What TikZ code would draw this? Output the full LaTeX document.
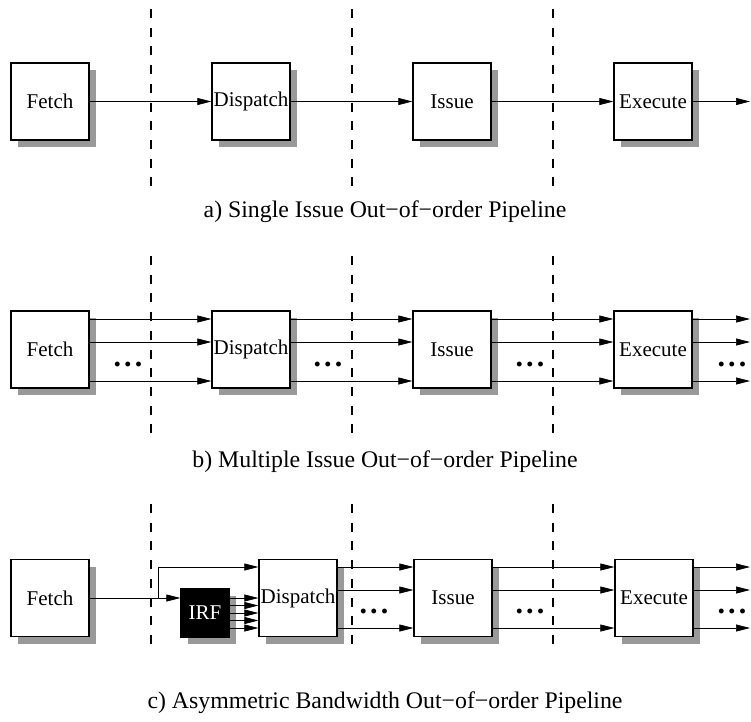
\documentclass[tikz,border=0pt]{standalone}
\usepackage{fontspec}
\setmainfont{Liberation Serif}
\usetikzlibrary{arrows.meta,shadows,calc}
\begin{document}
\begin{tikzpicture}[x=1pt,y=-1pt,
  stage/.style={draw=black, line width=1.3pt, fill=white, minimum width=78pt, minimum height=77pt, inner sep=0pt,
    font=\fontsize{21}{25}\selectfont,
    drop shadow={shadow xshift=7pt, shadow yshift=-7pt, fill=black!40, opacity=1, draw=none}},
  irfbox/.style={draw=black, line width=1.3pt, fill=black, text=white, minimum width=48pt, minimum height=48pt, inner sep=0pt,
    font=\fontsize{21}{25}\selectfont,
    drop shadow={shadow xshift=7pt, shadow yshift=-7pt, fill=black!40, opacity=1, draw=none}},
  conn/.style={line width=0.7pt, -{Triangle[length=14pt,width=7pt]}},
  stagesep/.style={line width=1.2pt, dash pattern=on 9pt off 9.7pt},
  caption/.style={font=\fontsize{23.8}{28}\selectfont},
  dots/.style={font=\bfseries\fontsize{30}{34}\selectfont, anchor=base, inner sep=0pt}
]
\useasboundingbox (0,0) rectangle (751,721);
\newcommand{\mydots}{.\hspace{3.2pt}.\hspace{3.2pt}.}

% stage separators
\foreach \x in {151,352,553} {
  \draw[stagesep] (\x,9) -- (\x,186);
  \draw[stagesep] (\x,256) -- (\x,433);
  \draw[stagesep] (\x,504) -- (\x,647);
}

% ---------- a) ----------
\node[stage] (fA) at (50,101.5) {Fetch};
\node[stage] (dA) at (251,101.5) {Dispatch};
\node[stage] (iA) at (452,101.5) {Issue};
\node[stage] (eA) at (653,101.5) {Execute};
\coordinate (endA) at (750,101.5);
\draw[conn] (fA) -- (dA);
\draw[conn] (dA) -- (iA);
\draw[conn] (iA) -- (eA);
\draw[conn] (eA) -- (endA);
\node[caption] (capA) at (385,212) {a) Single Issue Out−of−order Pipeline};

% ---------- b) ----------
\node[stage] (fB) at (50,349.5) {Fetch};
\node[stage] (dB) at (251,349.5) {Dispatch};
\node[stage] (iB) at (452,349.5) {Issue};
\node[stage] (eB) at (653,349.5) {Execute};
\coordinate (endB) at (750,349.5);
\foreach \dy in {30.5,7.5,-31.5} {
  \draw[conn] ([yshift=\dy pt]fB.east) -- ([yshift=\dy pt]fB.east -| dB.west);
  \draw[conn] ([yshift=\dy pt]dB.east) -- ([yshift=\dy pt]dB.east -| iB.west);
  \draw[conn] ([yshift=\dy pt]iB.east) -- ([yshift=\dy pt]iB.east -| eB.west);
  \draw[conn] ([yshift=\dy pt]eB.east) -- ([yshift=\dy pt]eB.east -| endB);
}
\node[dots] (dotsB1) at (128,366) {\mydots};
\node[dots] (dotsB2) at (328,366) {\mydots};
\node[dots] (dotsB3) at (530,366) {\mydots};
\node[dots] (dotsB4) at (732,366) {\mydots};
\node[caption] (capB) at (385,462) {b) Multiple Issue Out−of−order Pipeline};

% ---------- c) ----------
\node[stage] (fC) at (50,598) {Fetch};
\node[irfbox] (irf) at (205,613) {IRF};
\node[stage] (dC) at (298,598) {Dispatch};
\node[stage] (iC) at (453,598) {Issue};
\node[stage] (eC) at (654,598) {Execute};
\coordinate (endC) at (750,598);
\coordinate (br) at (158,598);
\draw[conn] (fC.east) -- (fC.east -| irf.west);
\draw[conn] (br) |- ([yshift=31pt]dC.west);
\foreach \dy in {15,7.5,0,-7.5,-15} {
  \draw[conn] ([yshift=\dy pt]irf.east) -- ([yshift=\dy pt]irf.east -| dC.west);
}
\foreach \dy in {31,8,-30} {
  \draw[conn] ([yshift=\dy pt]dC.east) -- ([yshift=\dy pt]dC.east -| iC.west);
  \draw[conn] ([yshift=\dy pt]iC.east) -- ([yshift=\dy pt]iC.east -| eC.west);
  \draw[conn] ([yshift=\dy pt]eC.east) -- ([yshift=\dy pt]eC.east -| endC);
}
\node[dots] (dotsC1) at (374,613) {\mydots};
\node[dots] (dotsC2) at (530,613) {\mydots};
\node[dots] (dotsC3) at (732,613) {\mydots};
\node[caption] (capC) at (385,703) {c) Asymmetric Bandwidth Out−of−order Pipeline};
\end{tikzpicture}
\end{document}
